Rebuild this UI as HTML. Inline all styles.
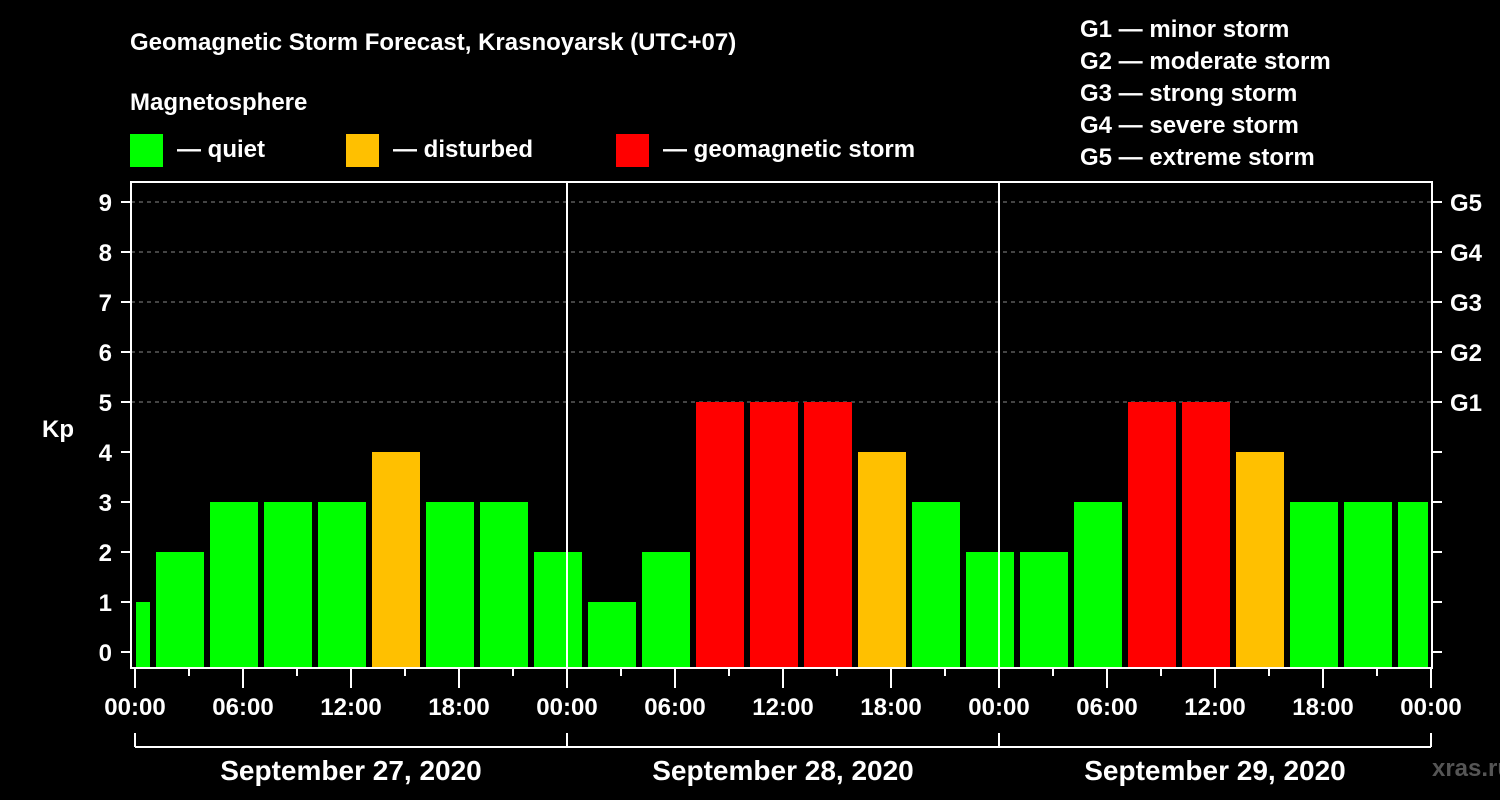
<!DOCTYPE html>
<html><head><meta charset="utf-8"><style>
body{margin:0;background:#000;}
svg{display:block;font-family:"Liberation Sans",Arial,sans-serif;font-weight:bold;}
</style></head><body>
<svg width="1500" height="800" viewBox="0 0 1500 800">
<defs><clipPath id="pc"><rect x="136" y="170" width="1292" height="498"/></clipPath></defs>
<text x="130" y="50" fill="#fff" font-size="24">Geomagnetic Storm Forecast, Krasnoyarsk (UTC+07)</text>
<text x="130" y="110" fill="#fff" font-size="24">Magnetosphere</text>
<g><rect x="130" y="134" width="33" height="33" fill="#00ff00"/><text x="177" y="157" fill="#fff" font-size="24">— quiet</text></g>
<g><rect x="346" y="134" width="33" height="33" fill="#ffc000"/><text x="393" y="157" fill="#fff" font-size="24">— disturbed</text></g>
<g><rect x="616" y="134" width="33" height="33" fill="#ff0000"/><text x="663" y="157" fill="#fff" font-size="24">— geomagnetic storm</text></g>
<g fill="#fff" font-size="24">
<text x="1080" y="37">G1 — minor storm</text>
<text x="1080" y="69">G2 — moderate storm</text>
<text x="1080" y="101">G3 — strong storm</text>
<text x="1080" y="133">G4 — severe storm</text>
<text x="1080" y="165">G5 — extreme storm</text>
</g>
<g id="grid"></g>
<g id="bars" clip-path="url(#pc)"></g>
<rect x="131" y="182" width="1301" height="486" fill="none" stroke="#fff" stroke-width="2"/>
<g id="axes"></g>
<text x="42" y="437" fill="#fff" font-size="24">Kp</text>
<text x="1472" y="776" fill="#555" font-size="24" text-anchor="middle">xras.ru</text>
</svg>
<script>
const kpValues=[1,2,3,3,3,4,3,3,2,1,2,5,5,5,4,3,2,2,3,5,5,4,3,3,3];
const dayLabels=["September 27, 2020","September 28, 2020","September 29, 2020"];
const hourLabels=["00:00","06:00","12:00","18:00"];
const gLabels=["G1","G2","G3","G4","G5"];
const NS="http://www.w3.org/2000/svg";
const X0=135,DAY=432,Y0=652,UNIT=50,BOTTOM=668;
function xh(h){return X0+h*DAY/24;}
function yk(k){return Y0-k*UNIT;}
function mk(tag,attrs,parent){const e=document.createElementNS(NS,tag);for(const k in attrs)e.setAttribute(k,attrs[k]);parent.appendChild(e);return e;}
function col(v){return v>=5?"#ff0000":v>=4?"#ffc000":"#00ff00";}
const bars=document.getElementById("bars"),grid=document.getElementById("grid"),axes=document.getElementById("axes");
kpValues.forEach((v,i)=>{const h0=-2+3*i;
 const r=mk("rect",{x:xh(h0)+3,y:yk(v),width:DAY/8-6,height:BOTTOM-yk(v),fill:col(v)},bars);
 
 });
for(let k=0;k<=9;k++){
 if(k>=5){const g=mk("line",{x1:131,x2:1432,y1:yk(k),y2:yk(k),stroke:"#888","stroke-dasharray":"4,4","stroke-width":1},grid);
 
 }
 mk("line",{x1:121,x2:131,y1:yk(k),y2:yk(k),stroke:"#fff","stroke-width":2},axes);
 mk("line",{x1:1432,x2:1442,y1:yk(k),y2:yk(k),stroke:"#fff","stroke-width":2},axes);
 const t=mk("text",{x:112,y:yk(k)+9,fill:"#fff","font-size":24,"text-anchor":"end"},axes);t.textContent=k;
 
 
 if(k>=5){const g=mk("text",{x:1450,y:yk(k)+9,fill:"#fff","font-size":24},axes);g.textContent=gLabels[k-5];
 
 }
}
for(let d=1;d<3;d++){mk("line",{x1:xh(24*d),x2:xh(24*d),y1:182,y2:668,stroke:"#fff","stroke-width":2},axes);}
for(let h=0;h<=72;h+=3){const big=h%6===0;
 mk("line",{x1:xh(h),x2:xh(h),y1:668,y2:big?688:676,stroke:"#fff","stroke-width":2},axes);
 if(big){const t=mk("text",{x:xh(h),y:715,fill:"#fff","font-size":24,"text-anchor":"middle"},axes);t.textContent=hourLabels[(h/6)%4];
 
 }}
mk("line",{x1:X0,x2:xh(72),y1:747,y2:747,stroke:"#fff","stroke-width":2},axes);
for(let d=0;d<=3;d++)mk("line",{x1:xh(24*d),x2:xh(24*d),y1:733,y2:747,stroke:"#fff","stroke-width":2},axes);
dayLabels.forEach((s,d)=>{const t=mk("text",{x:xh(24*d+12),y:780,fill:"#fff","font-size":28,"text-anchor":"middle"},axes);t.textContent=s;
 
 });
</script>
</body></html>
